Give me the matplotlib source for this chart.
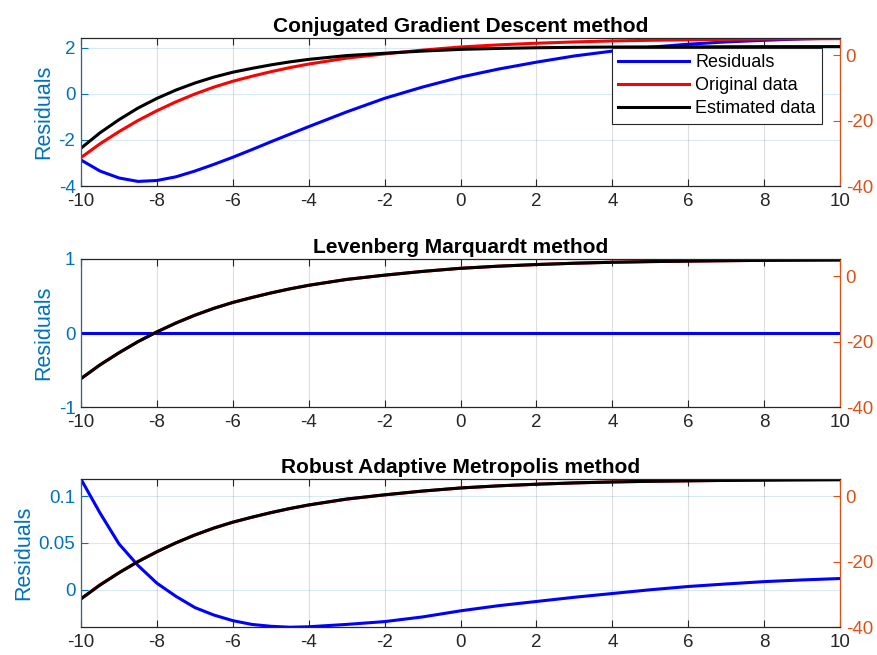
import matplotlib

matplotlib.use("Agg")
import matplotlib.pyplot as plt

plt.rcParams["font.family"] = ["Liberation Sans", "DejaVu Sans"]

LEFT_COLOR = "#0072BD"
RIGHT_COLOR = "#D95319"
AXIS_DARK = "#262626"

x = [-10, -9.5, -9, -8.5, -8, -7.5, -7, -6.5, -6, -5.5, -5, -4.5, -4,
     -3, -2, -1, 0, 1, 2, 3, 4, 5, 6, 7, 8, 9, 10]

# measured data (right axis)
original = [-31.3, -27.1, -23.4, -20.0, -17.0, -14.3, -11.9, -9.8, -8.0, -6.5, -5.1, -3.85, -2.75,
            -0.95, 0.35, 1.5, 2.45, 3.1, 3.6, 4.0, 4.3, 4.5, 4.65, 4.78, 4.88, 4.95, 5.0]

# Conjugated Gradient Descent
cgd_estimated = [-28.43, -23.75, -19.75, -16.2, -13.24, -10.7, -8.55, -6.74, -5.25, -4.08, -3.02, -2.1, -1.33,
                 -0.17, 0.54, 1.2, 1.72, 2.02, 2.22, 2.35, 2.44, 2.47, 2.49, 2.52, 2.55, 2.56, 2.57]
cgd_residuals = [-2.87, -3.35, -3.65, -3.80, -3.76, -3.60, -3.35, -3.06, -2.75, -2.42, -2.08, -1.75, -1.42,
                 -0.78, -0.19, 0.30, 0.73, 1.08, 1.38, 1.65, 1.86, 2.03, 2.16, 2.26, 2.33, 2.39, 2.43]

# Levenberg Marquardt
lm_estimated = [-31.3, -27.1, -23.4, -20.0, -17.0, -14.3, -11.9, -9.8, -8.0, -6.5, -5.1, -3.85, -2.75,
                -0.95, 0.35, 1.5, 2.45, 3.1, 3.6, 4.0, 4.3, 4.5, 4.65, 4.78, 4.88, 4.95, 5.0]
lm_residuals = [0.0] * len(x)

# Robust Adaptive Metropolis
ram_estimated = [-31.42, -27.18, -23.45, -20.03, -17.01, -14.29, -11.88, -9.77, -7.97, -6.46, -5.06, -3.81, -2.71,
                 -0.91, 0.38, 1.53, 2.47, 3.12, 3.61, 4.01, 4.30, 4.50, 4.65, 4.77, 4.87, 4.94, 4.99]
ram_residuals = [0.118, 0.082, 0.049, 0.026, 0.007, -0.007, -0.019, -0.027, -0.033, -0.037, -0.039, -0.040, -0.0395,
                 -0.037, -0.034, -0.029, -0.0225, -0.017, -0.0125, -0.008, -0.004, 0.0, 0.0035, 0.0062, 0.0087, 0.0105, 0.012]

panels = [
    ("Conjugated Gradient Descent method", cgd_residuals, cgd_estimated, (-4, 2.43), [-4, -2, 0, 2], ["-4", "-2", "0", "2"]),
    ("Levenberg Marquardt method", lm_residuals, lm_estimated, (-1, 1), [-1, 0, 1], ["-1", "0", "1"]),
    ("Robust Adaptive Metropolis method", ram_residuals, ram_estimated, (-0.0398, 0.1183), [0, 0.05, 0.1], ["0", "0.05", "0.1"]),
]
right_limits = [(-40, 5.2), (-40, 5.3), (-40, 5.2)]
x_ticks = [-10, -8, -6, -4, -2, 0, 2, 4, 6, 8, 10]

fig = plt.figure(figsize=(8.77, 6.55), dpi=100)
bottoms = [0.716, 0.3786, 0.0427]

for (title, resid, est, ylim, yt, ytl), bottom, rlim in zip(panels, bottoms, right_limits):
    ax = fig.add_axes([0.0924, bottom, 0.8655, 0.226])
    ax2 = ax.twinx()

    l1, = ax.plot(x, resid, color="#0000FF", lw=2.2)
    l2, = ax2.plot(x, original, color="#FF0000", lw=2.2)
    l3, = ax2.plot(x, est, color="#000000", lw=2.2)

    ax.set_xlim(-10, 10)
    ax.set_ylim(*ylim)
    ax2.set_ylim(*rlim)
    ax.set_xticks(x_ticks)
    ax.set_xticklabels([str(t) for t in x_ticks])
    ax.set_yticks(yt)
    ax.set_yticklabels(ytl)
    ax2.set_yticks([-40, -20, 0])
    ax2.set_yticklabels(["-40", "-20", "0"])

    ax.grid(True, axis="x", color=AXIS_DARK, alpha=0.15, lw=0.8)
    ax.grid(True, axis="y", color=LEFT_COLOR, alpha=0.15, lw=0.8)
    ax.set_axisbelow(True)

    ax.tick_params(axis="x", direction="in", top=True, length=5, width=0.8,
                   colors=AXIS_DARK, labelsize=13.5, pad=5)
    ax.tick_params(axis="y", direction="in", length=5, width=0.8,
                   colors=LEFT_COLOR, labelsize=13.5, pad=4)
    ax2.tick_params(axis="y", direction="in", length=5, width=0.8,
                    colors=RIGHT_COLOR, labelsize=13.5, pad=4)

    for side in ("top", "bottom"):
        ax2.spines[side].set_color(AXIS_DARK)
        ax2.spines[side].set_linewidth(0.8)
    ax2.spines["left"].set_color(LEFT_COLOR)
    ax2.spines["right"].set_color(RIGHT_COLOR)

    ax.set_ylabel("Residuals", color=LEFT_COLOR, fontsize=15.5, labelpad=3)
    ax.set_title(title, fontsize=15, fontweight="bold", pad=4)

    if bottom == bottoms[0]:
        leg = ax2.legend([l1, l2, l3], ["Residuals", "Original data", "Estimated data"],
                         loc="upper right", bbox_to_anchor=(0.976, 0.932), fontsize=13,
                         handlelength=3.9, fancybox=False, framealpha=1,
                         edgecolor=AXIS_DARK, borderpad=0.35, labelspacing=0.33,
                         handletextpad=0.35, borderaxespad=0)
        leg.get_frame().set_linewidth(0.8)

fig.savefig("out.png", dpi=100)
